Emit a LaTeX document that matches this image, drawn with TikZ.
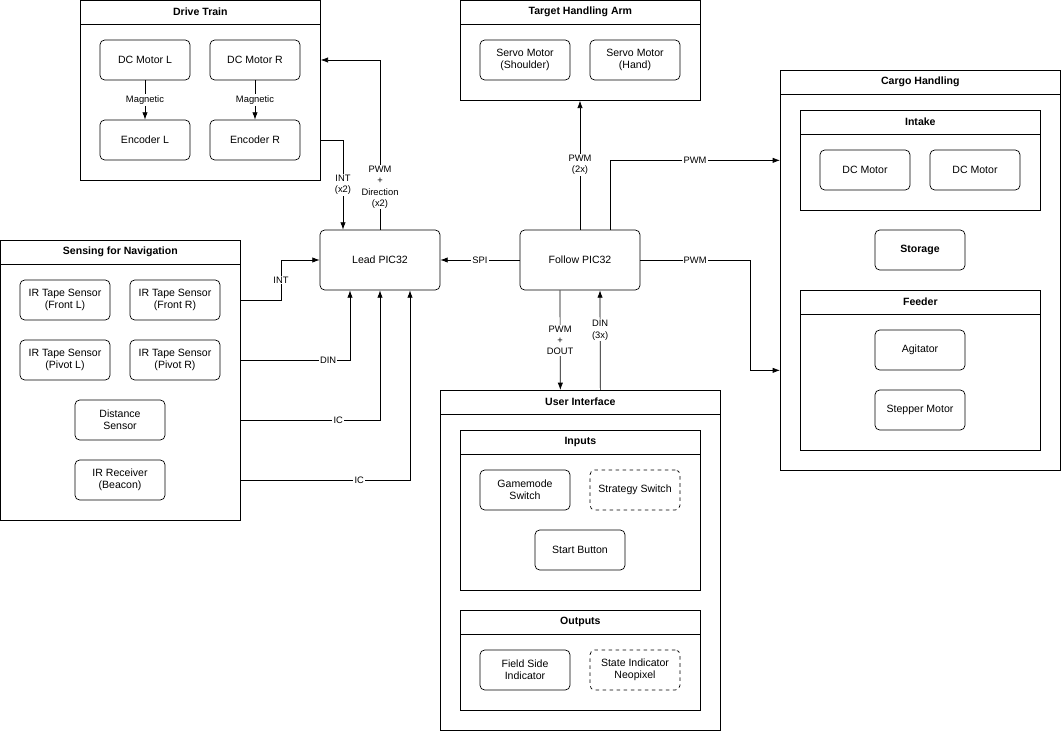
\documentclass[tikz,border=0pt]{standalone}
\usepackage{fontspec}
\setmainfont{Liberation Sans}
\usetikzlibrary{arrows.meta,calc}
\tikzset{
  frm/.style={draw=black, rectangle, inner sep=0pt},
  blk/.style={draw=black, rounded corners=4pt, minimum width=2.7cm, minimum height=1.2cm, align=center, font=\fontsize{9}{10.5}\selectfont},
  dsh/.style={blk, dashed},
  ttl/.style={font=\bfseries\fontsize{9}{10.5}\selectfont},
  lbl/.style={fill=white, inner sep=1pt, align=center, font=\fontsize{8}{9.5}\selectfont},
  arr/.style={-{Latex[length=2.2mm,width=1.6mm]}, semithick},
}
% container with a title strip
\newcommand{\frmbox}[6]{%
  \node[frm, minimum width=#4*0.03cm-#2*0.03cm, minimum height=#5*0.03cm-#3*0.03cm, anchor=north west] (#1) at (#2,#3) {};
  \node[ttl] at ($(#1.north)+(0,12)$) {#6};
  \draw ($(#1.north west)+(0,24)$) -- ($(#1.north east)+(0,24)$);
}
\begin{document}
\begin{tikzpicture}[x=0.03cm, y=-0.03cm, semithick]
  \useasboundingbox (0,0) rectangle (1061,732);

  % drive train
  \frmbox{drive}{80}{0}{320}{180}{Drive Train}
  \node[blk] (dcl) at (145,60) {DC Motor L};
  \node[blk] (dcr) at (255,60) {DC Motor R};
  \node[blk] (encl) at (145,140) {Encoder L};
  \node[blk] (encr) at (255,140) {Encoder R};
  \draw[arr] (dcl) -- node[lbl] {Magnetic} (encl);
  \draw[arr] (dcr) -- node[lbl] {Magnetic} (encr);

  % arm
  \frmbox{arm}{460}{0}{700}{100}{Target Handling Arm}
  \node[blk] (shoulder) at (525,60) {Servo Motor\\(Shoulder)};
  \node[blk] (hand) at (635,60) {Servo Motor\\(Hand)};

  % cargo
  \frmbox{cargo}{780}{70}{1060}{470}{Cargo Handling}
  \frmbox{intake}{800}{110}{1040}{210}{Intake}
  \node[blk] (dc1) at (865,170) {DC Motor};
  \node[blk] (dc2) at (975,170) {DC Motor};
  \node[blk, font=\bfseries\fontsize{9}{10.5}\selectfont] (storage) at (920,250) {Storage};
  \frmbox{feeder}{800}{290}{1040}{450}{Feeder}
  \node[blk] (agit) at (920,350) {Agitator};
  \node[blk] (stepper) at (920,410) {Stepper Motor};

  % sensing
  \frmbox{sense}{0}{240}{240}{520}{Sensing for Navigation}
  \node[blk] (frontl) at (65,300) {IR Tape Sensor\\(Front L)};
  \node[blk] (frontr) at (175,300) {IR Tape Sensor\\(Front R)};
  \node[blk] (pivotl) at (65,360) {IR Tape Sensor\\(Pivot L)};
  \node[blk] (pivotr) at (175,360) {IR Tape Sensor\\(Pivot R)};
  \node[blk] (dist) at (120,420) {Distance\\Sensor};
  \node[blk] (beacon) at (120,480) {IR Receiver\\(Beacon)};

  % controllers
  \node[blk, minimum width=3.6cm, minimum height=1.8cm] (lead) at (380,260) {Lead PIC32};
  \node[blk, minimum width=3.6cm, minimum height=1.8cm] (follow) at (580,260) {Follow PIC32};

  % user interface
  \frmbox{ui}{440}{390}{720}{730}{User Interface}
  \frmbox{inputs}{460}{430}{700}{590}{Inputs}
  \node[blk] (gamemode) at (525,490) {Gamemode\\Switch};
  \node[dsh] (strategy) at (635,490) {Strategy Switch};
  \node[blk] (start) at (580,550) {Start Button};
  \frmbox{outputs}{460}{610}{700}{710}{Outputs}
  \node[blk] (fieldside) at (525,670) {Field Side\\Indicator};
  \node[dsh] (neopixel) at (635,670) {State Indicator\\Neopixel};

  % connections
  \draw[arr] (lead.north) -- node[lbl, pos=0.25] {PWM\\+\\Direction\\(x2)} (lead.north |- dcl) -- (drive.east |- dcl);
  \draw[arr] (drive.east |- encl) -| node[lbl, pos=0.75] {INT\\(x2)} ($(lead.north)+(-37,0)$);
  \draw[arr, {Latex[length=2.2mm,width=1.6mm]}-] (lead) -- node[lbl] {SPI} (follow);
  \draw[arr] (follow.north) -- node[lbl] {PWM\\(2x)} (follow.north |- arm.south);
  \draw[arr] ($(follow.north)+(30,0)$) |- node[lbl, pos=0.75] {PWM} (cargo.west |- intake.west);
  \draw[arr] (follow.east) -- node[lbl] {PWM} (750,260) |- (cargo.west |- agit.south);
  \draw[arr] ($(follow.south)+(-20,0)$) -- node[lbl] {PWM\\+\\DOUT} ($(ui.north)+(-20,0)$);
  \draw[arr] ($(ui.north)+(20,0)$) -- node[lbl, pos=0.6] {DIN\\(3x)} ($(follow.south)+(20,0)$);
  \draw[arr] (sense.east |- frontr) -- (281,300) -- node[lbl] {INT} (281,260) -- (lead.west);
  \draw[arr] (sense.east |- pivotr) -| node[lbl, pos=0.4] {DIN} ($(lead.south)+(-30,0)$);
  \draw[arr] (sense.east |- dist) -| node[lbl, pos=0.35] {IC} (lead.south);
  \draw[arr] (sense.east |- beacon) -| node[lbl, pos=0.35] {IC} ($(lead.south)+(30,0)$);
\end{tikzpicture}
\end{document}
